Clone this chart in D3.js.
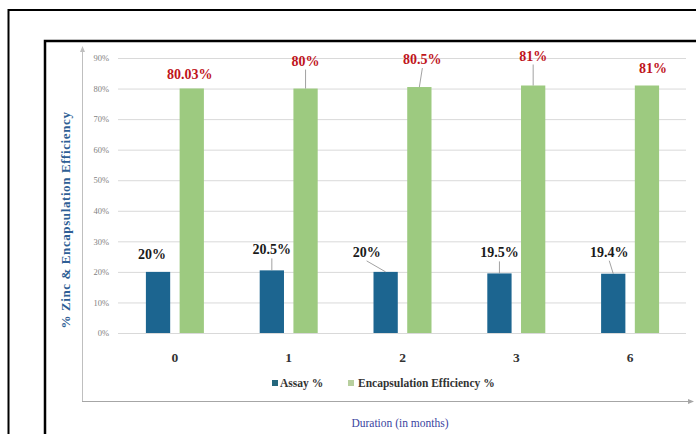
<!DOCTYPE html>
<html lang="en">
<head>
  <meta charset="UTF-8" />
  <title>Zinc assay and encapsulation efficiency</title>
  <script src="https://cdn.jsdelivr.net/npm/d3@7"></script>
  <style>
    body {
      margin: 0;
      background-color: #fff;
    }

    svg {
      display: block;
      font-family: "Liberation Serif", "DejaVu Serif", serif;
    }

    svg text {
      font-family: "Liberation Serif", "DejaVu Serif", serif;
    }

    .grid line {
      stroke: #d9d9d9;
      stroke-width: 1px;
    }

    .tick-label {
      font-size: 8.5px;
      fill: #7f7f7f;
    }

    .cat-label {
      font-size: 13.5px;
      font-weight: bold;
      fill: #333;
    }

    .leader {
      stroke: #8a8a8a;
      stroke-width: 0.8px;
    }
  </style>
</head>
<body>
  <div id="chart"></div>

  <script>
    // data
    const durations = ["0", "1", "2", "3", "6"];
    const assay = [20, 20.5, 20, 19.5, 19.4];
    const encapsulation = [80.03, 80, 80.5, 81, 81];
    const assayLabels = ["20%", "20.5%", "20%", "19.5%", "19.4%"];
    const encapLabels = ["80.03%", "80%", "80.5%", "81%", "81%"];
    const yTicks = [0, 10, 20, 30, 40, 50, 60, 70, 80, 90];

    // label nudges in px (the source chart has hand placed labels)
    const assayNudge = [[-6, -13], [0, -16], [-19, -15], [0, -16], [-4, -17]];
    const encapNudge = [[-2, -9], [0, -23], [3, -23], [0, -25], [6, -13]];

    const width = 696;
    const height = 434;

    const svg = d3.select("#chart")
      .append("svg")
      .attr("width", width)
      .attr("height", height);

    // outer + inner frames
    svg.append("rect")
      .attr("x", 8.5).attr("y", 10)
      .attr("width", 700).attr("height", 440)
      .attr("fill", "none").attr("stroke", "#000").attr("stroke-width", 2);

    svg.append("rect")
      .attr("x", 45).attr("y", 41)
      .attr("width", 700).attr("height", 440)
      .attr("fill", "none").attr("stroke", "#000").attr("stroke-width", 2.5);

    const x0 = d3.scaleBand()
      .domain(durations)
      .range([118, 687]);

    const x1 = d3.scaleBand()
      .domain(["assay", "encap"])
      .range([x0.bandwidth() / 2 - 29, x0.bandwidth() / 2 + 29])
      .paddingInner(0.28);

    const y = d3.scaleLinear()
      .domain([0, 90])
      .range([333, 58]);

    // gridlines
    svg.append("g")
      .attr("class", "grid")
      .selectAll("line")
      .data(yTicks)
      .enter()
      .append("line")
      .attr("x1", 118)
      .attr("x2", 686)
      .attr("y1", d => y(d) + 0.5)
      .attr("y2", d => y(d) + 0.5);

    // y axis (labels only, lines drawn separately)
    const yAxis = d3.axisLeft(y)
      .tickValues(yTicks)
      .tickFormat(d => d + "%")
      .tickSize(0)
      .tickPadding(0);

    const yg = svg.append("g")
      .attr("transform", "translate(109,0)")
      .call(yAxis)
      .attr("font-family", null)
      .attr("font-size", null);
    yg.select(".domain").remove();
    yg.selectAll("text")
      .attr("class", "tick-label")
      .attr("fill", null);

    // axis lines with small arrows
    svg.append("line")
      .attr("x1", 82.5).attr("x2", 82.5)
      .attr("y1", 50).attr("y2", 401)
      .attr("stroke", "#bfbfbf").attr("stroke-width", 1);
    svg.append("path")
      .attr("d", "M80,52 L82.5,46 L85,52 Z")
      .attr("fill", "#bfbfbf");

    svg.append("line")
      .attr("x1", 82).attr("x2", 690)
      .attr("y1", 401.5).attr("y2", 401.5)
      .attr("stroke", "#a6a6a6").attr("stroke-width", 1);
    svg.append("path")
      .attr("d", "M688,399 L694,401.5 L688,404 Z")
      .attr("fill", "#a6a6a6");

    // bars
    const groups = svg.selectAll(".grp")
      .data(durations)
      .enter()
      .append("g")
      .attr("class", "grp")
      .attr("transform", d => `translate(${x0(d)},0)`);

    groups.append("rect")
      .attr("x", x1("assay"))
      .attr("y", (d, i) => y(assay[i]))
      .attr("width", x1.bandwidth())
      .attr("height", (d, i) => y(0) - y(assay[i]))
      .attr("fill", "#1c6590");

    groups.append("rect")
      .attr("x", x1("encap"))
      .attr("y", (d, i) => y(encapsulation[i]))
      .attr("width", x1.bandwidth())
      .attr("height", (d, i) => y(0) - y(encapsulation[i]))
      .attr("fill", "#9dca80");

    // data labels with leader lines
    function addLabels(values, labels, nudge, key, color) {
      groups.each(function (d, i) {
        const g = d3.select(this);
        const cx = x1(key) + x1.bandwidth() / 2;
        const top = y(values[i]);
        const lx = cx + nudge[i][0];
        const ly = top + nudge[i][1];
        if (nudge[i][1] < -14) {
          g.append("line")
            .attr("class", "leader")
            .attr("x1", lx).attr("y1", ly + 4)
            .attr("x2", cx).attr("y2", top);
        }
        g.append("text")
          .attr("x", lx)
          .attr("y", ly)
          .attr("text-anchor", "middle")
          .attr("font-size", 14)
          .attr("font-weight", "bold")
          .attr("fill", color)
          .text(labels[i]);
      });
    }

    addLabels(assay, assayLabels, assayNudge, "assay", "#1a1a1a");
    addLabels(encapsulation, encapLabels, encapNudge, "encap", "#c0141c");

    // category labels
    const xAxis = d3.axisBottom(x0).tickSize(0).tickPadding(0);
    const xg = svg.append("g")
      .attr("transform", "translate(0,352)")
      .call(xAxis)
      .attr("font-family", null)
      .attr("font-size", null);
    xg.select(".domain").remove();
    xg.selectAll("text")
      .attr("class", "cat-label")
      .attr("fill", null);

    // legend
    const legend = svg.append("g")
      .attr("transform", "translate(272,387)");

    legend.append("rect")
      .attr("x", 0).attr("y", -7)
      .attr("width", 6).attr("height", 6)
      .attr("fill", "#24677d");
    legend.append("text")
      .attr("x", 8).attr("y", 0)
      .attr("font-size", 11.5).attr("font-weight", "bold").attr("fill", "#333")
      .text("Assay %");

    legend.append("rect")
      .attr("x", 76).attr("y", -7)
      .attr("width", 6).attr("height", 6)
      .attr("fill", "#b7cf9e");
    legend.append("text")
      .attr("x", 86).attr("y", 0)
      .attr("font-size", 11.5).attr("font-weight", "bold").attr("fill", "#333")
      .text("Encapsulation Efficiency %");

    // axis titles
    svg.append("text")
      .attr("x", 400)
      .attr("y", 427)
      .attr("text-anchor", "middle")
      .attr("font-size", 11.5)
      .attr("fill", "#3a44a0")
      .text("Duration (in months)");

    svg.append("text")
      .attr("transform", "translate(70,220) rotate(-90)")
      .attr("text-anchor", "middle")
      .attr("font-size", 13)
      .attr("font-weight", "bold")
      .attr("letter-spacing", 0.6)
      .attr("fill", "#2f5f95")
      .text("% Zinc & Encapsulation Efficiency");
  </script>
</body>
</html>
